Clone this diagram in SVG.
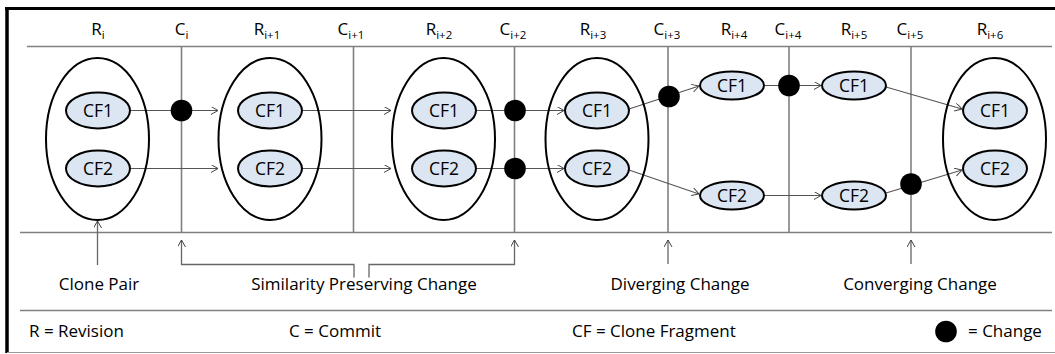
<svg xmlns="http://www.w3.org/2000/svg" width="1055" height="354" viewBox="0 0 1055 354">
  <defs>
    <style>
      text { font-family: "Open Sans", "Liberation Sans", sans-serif; fill: #000; }
      .lbl { font-size: 17px; }
      .cfl { font-size: 17.5px; text-anchor: middle; }
      .hdr { font-size: 17px; text-anchor: middle; }
      .sub { font-size: 11.5px; }
      .mid { text-anchor: middle; }
      .cf { fill: #dce6f2; stroke: #000; stroke-width: 2; }
      .rev { fill: none; stroke: #000; stroke-width: 2; }
      .grid { stroke: #808080; stroke-width: 1.6; fill: none; }
      .conn { stroke: #555; stroke-width: 1.1; fill: none; }
      .ptr { stroke: #666; stroke-width: 1.3; fill: none; }
      .chg { fill: #000; }
    </style>
    <marker id="open" markerWidth="10" markerHeight="10" refX="8" refY="4" orient="auto" markerUnits="userSpaceOnUse">
      <path d="M1,0 L8,4 L1,8" fill="none" stroke="#444" stroke-width="1"/>
    </marker>
  </defs>

  <rect width="1055" height="354" fill="#fff"/>

  <!-- frame -->
  <g id="frame">
    <line x1="5" y1="8.5" x2="1055" y2="8.5" stroke="#000" stroke-width="3"/>
    <line x1="7" y1="7" x2="7" y2="353" stroke="#000" stroke-width="3.5"/>
    <line x1="7" y1="352.5" x2="1055" y2="352.5" stroke="#999" stroke-width="1.2"/>
  </g>

  <!-- timeline grid: header rule, commit columns, base rule, legend rule -->
  <g id="grid" class="grid">
    <line x1="27" y1="46.5" x2="1052" y2="46.5"/>
    <line x1="20" y1="232.5" x2="1052" y2="232.5"/>
    <line x1="20" y1="310.5" x2="1052" y2="310.5"/>
    <line x1="181.5" y1="46.5" x2="181.5" y2="232.5"/>
    <line x1="353.5" y1="46.5" x2="353.5" y2="232.5"/>
    <line x1="514.5" y1="46.5" x2="514.5" y2="232.5"/>
    <line x1="668" y1="46.5" x2="668" y2="232.5"/>
    <line x1="789" y1="46.5" x2="789" y2="232.5"/>
    <line x1="911" y1="46.5" x2="911" y2="232.5"/>
  </g>

  <!-- column headings -->
  <g id="headings" class="hdr">
    <text x="98" y="35">R<tspan class="sub" dy="4">i</tspan></text>
    <text x="181.5" y="35">C<tspan class="sub" dy="4">i</tspan></text>
    <text x="267" y="35">R<tspan class="sub" dy="4">i+1</tspan></text>
    <text x="351" y="35">C<tspan class="sub" dy="4">i+1</tspan></text>
    <text x="439" y="35">R<tspan class="sub" dy="4">i+2</tspan></text>
    <text x="513" y="35">C<tspan class="sub" dy="4">i+2</tspan></text>
    <text x="593" y="35">R<tspan class="sub" dy="4">i+3</tspan></text>
    <text x="667" y="35">C<tspan class="sub" dy="4">i+3</tspan></text>
    <text x="734" y="35">R<tspan class="sub" dy="4">i+4</tspan></text>
    <text x="788" y="35">C<tspan class="sub" dy="4">i+4</tspan></text>
    <text x="854" y="35">R<tspan class="sub" dy="4">i+5</tspan></text>
    <text x="910" y="35">C<tspan class="sub" dy="4">i+5</tspan></text>
    <text x="990" y="35">R<tspan class="sub" dy="4">i+6</tspan></text>
  </g>

  <!-- connectors between clone fragments -->
  <g id="connectors" class="conn">
    <line x1="130" y1="110.5" x2="218" y2="110.5" marker-end="url(#open)"/>
    <line x1="130" y1="168.5" x2="218" y2="168.5" marker-end="url(#open)"/>
    <line x1="302" y1="110.5" x2="391" y2="110.5" marker-end="url(#open)"/>
    <line x1="302" y1="168.5" x2="391" y2="168.5" marker-end="url(#open)"/>
    <line x1="476" y1="110.5" x2="564" y2="110.5" marker-end="url(#open)"/>
    <line x1="476" y1="168.5" x2="564" y2="168.5" marker-end="url(#open)"/>
    <line x1="629" y1="109" x2="699" y2="86" marker-end="url(#open)"/>
    <line x1="629" y1="170" x2="699" y2="194" marker-end="url(#open)"/>
    <line x1="764" y1="85.5" x2="821" y2="85.5" marker-end="url(#open)"/>
    <line x1="764" y1="195.5" x2="821" y2="195.5" marker-end="url(#open)"/>
    <line x1="886" y1="87" x2="962" y2="109" marker-end="url(#open)"/>
    <line x1="886" y1="193" x2="962" y2="170" marker-end="url(#open)"/>
  </g>

  <!-- annotation pointers -->
  <g id="pointers" class="ptr">
    <line x1="97.5" y1="265" x2="97.5" y2="221" marker-end="url(#open)"/>
    <path d="M354,277.5 V264.5 H181.5 V240" marker-end="url(#open)"/>
    <path d="M369,277.5 V264.5 H514.5 V240" marker-end="url(#open)"/>
    <line x1="668" y1="264" x2="668" y2="240" marker-end="url(#open)"/>
    <line x1="911" y1="264" x2="911" y2="240" marker-end="url(#open)"/>
  </g>

  <!-- revisions -->
  <g id="rev-i">
    <ellipse class="rev" cx="97.5" cy="139" rx="51.5" ry="81"/>
    <ellipse class="cf" cx="98" cy="110.5" rx="32" ry="18"/>
    <text class="cfl" x="98" y="116.5">CF1</text>
    <ellipse class="cf" cx="98" cy="168.5" rx="32" ry="18"/>
    <text class="cfl" x="98" y="174.5">CF2</text>
  </g>
  <g id="rev-i1">
    <ellipse class="rev" cx="270" cy="139" rx="51.5" ry="81"/>
    <ellipse class="cf" cx="270" cy="110.5" rx="32" ry="18"/>
    <text class="cfl" x="270" y="116.5">CF1</text>
    <ellipse class="cf" cx="270" cy="168.5" rx="32" ry="18"/>
    <text class="cfl" x="270" y="174.5">CF2</text>
  </g>
  <g id="rev-i2">
    <ellipse class="rev" cx="443.5" cy="139" rx="51.5" ry="81"/>
    <ellipse class="cf" cx="444" cy="110.5" rx="32" ry="18"/>
    <text class="cfl" x="444" y="116.5">CF1</text>
    <ellipse class="cf" cx="444" cy="168.5" rx="32" ry="18"/>
    <text class="cfl" x="444" y="174.5">CF2</text>
  </g>
  <g id="rev-i3">
    <ellipse class="rev" cx="597" cy="139" rx="51.5" ry="81"/>
    <ellipse class="cf" cx="597" cy="110.5" rx="32" ry="18"/>
    <text class="cfl" x="597" y="116.5">CF1</text>
    <ellipse class="cf" cx="597" cy="168.5" rx="32" ry="18"/>
    <text class="cfl" x="597" y="174.5">CF2</text>
  </g>
  <g id="rev-i4">
    <ellipse class="cf" cx="732" cy="85.5" rx="32" ry="14"/>
    <text class="cfl" x="732" y="91.5">CF1</text>
    <ellipse class="cf" cx="732" cy="195.5" rx="32" ry="14"/>
    <text class="cfl" x="732" y="201.5">CF2</text>
  </g>
  <g id="rev-i5">
    <ellipse class="cf" cx="854" cy="85.5" rx="32" ry="14"/>
    <text class="cfl" x="854" y="91.5">CF1</text>
    <ellipse class="cf" cx="854" cy="195.5" rx="32" ry="14"/>
    <text class="cfl" x="854" y="201.5">CF2</text>
  </g>
  <g id="rev-i6">
    <ellipse class="rev" cx="994.5" cy="139" rx="51.5" ry="81"/>
    <ellipse class="cf" cx="995" cy="110.5" rx="32" ry="18"/>
    <text class="cfl" x="995" y="116.5">CF1</text>
    <ellipse class="cf" cx="995" cy="168.5" rx="32" ry="18"/>
    <text class="cfl" x="995" y="174.5">CF2</text>
  </g>

  <!-- changes applied at commits -->
  <g id="changes" class="chg">
    <circle cx="181.5" cy="110.5" r="10.8"/>
    <circle cx="515" cy="110.5" r="10.8"/>
    <circle cx="515" cy="168.5" r="10.8"/>
    <circle cx="669" cy="96.5" r="10.8"/>
    <circle cx="789" cy="85.5" r="10.8"/>
    <circle cx="911" cy="184" r="10.8"/>
  </g>

  <!-- change categories -->
  <g id="categories" class="lbl mid">
    <text x="99" y="290">Clone Pair</text>
    <text x="364" y="290">Similarity Preserving Change</text>
    <text x="680" y="290">Diverging Change</text>
    <text x="920" y="290">Converging Change</text>
  </g>

  <!-- legend -->
  <g id="legend" class="lbl">
    <text x="29" y="337">R = Revision</text>
    <text x="289" y="337">C = Commit</text>
    <text x="572" y="337">CF = Clone Fragment</text>
    <circle cx="946" cy="331.5" r="10.8" fill="#000"/>
    <text x="968" y="337">= Change</text>
  </g>
</svg>
